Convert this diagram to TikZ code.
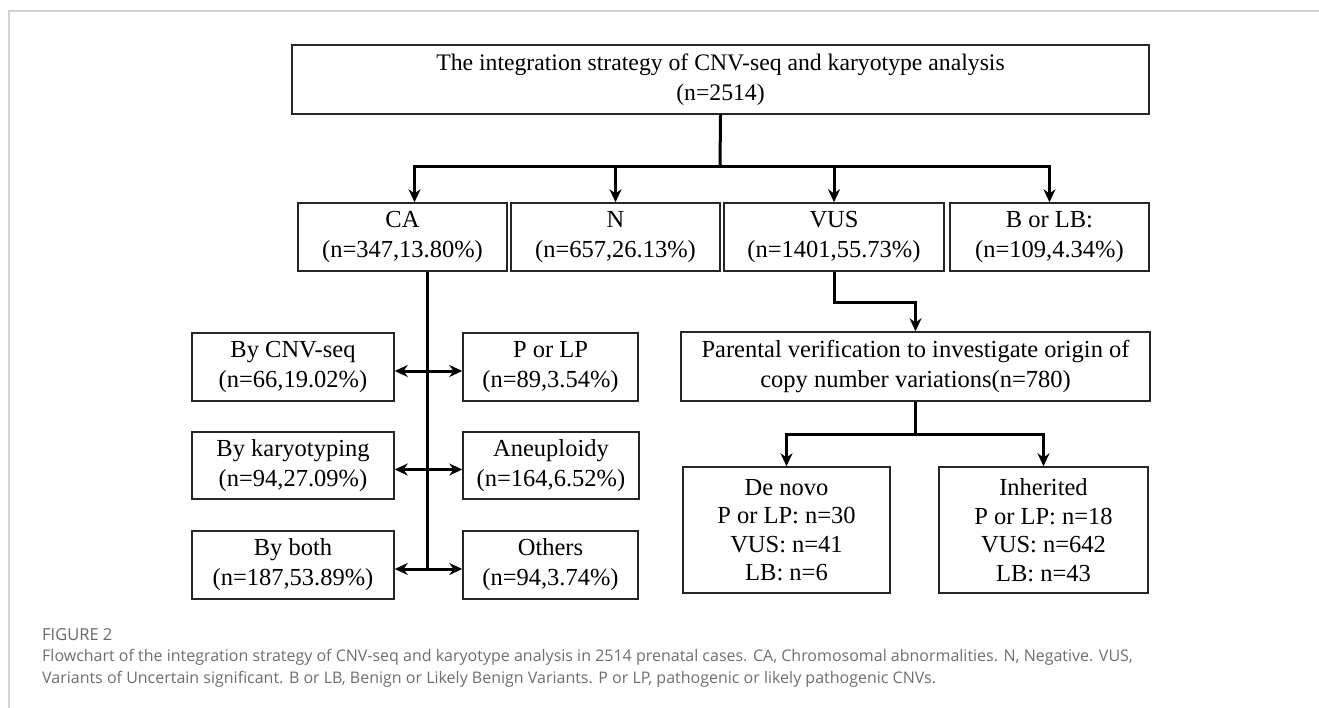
\documentclass[tikz,border=0pt]{standalone}
\usepackage{fontspec}
\setmainfont{Liberation Serif}
\newfontfamily\capfont{Open Sans}
\usetikzlibrary{arrows.meta}
\definecolor{framegray}{HTML}{D4D4D4}
\definecolor{capgray}{HTML}{6E6E6E}

\begin{document}
\begin{tikzpicture}[x=1pt, y=-1pt,
		box/.style={draw=black!85, line width=1.5pt, align=center, inner sep=0pt,
			font=\fontsize{24.5}{30}\selectfont},
		l_c/.style={line width=3pt, -{Stealth[length=13pt,width=12pt]}},
		l_d/.style={line width=3pt, {Stealth[length=13pt,width=12pt]}-{Stealth[length=13pt,width=12pt]}},
		captext/.style={anchor=base west, inner sep=0pt, text=capgray,
			font=\capfont\fontsize{16}{20}\selectfont}]
		\useasboundingbox (0,0) rectangle (1319,708);
		% page frame
		\draw[framegray, line width=1.5pt] (9,708) -- (9,11) -- (1319,11);
		
		% top and first level
		\node[box, minimum width=857pt, minimum height=69pt, font=\fontsize{23.7}{30}\selectfont] (top) at (720.5,79.5)
			{The integration strategy of CNV-seq and karyotype analysis\\(n=2514)};
		\node[box, minimum width=209pt, minimum height=68pt] (ca) at (402.5,237) {CA\\(n=347,13.80\%)};
		\node[box, minimum width=209pt, minimum height=68pt] (neg) at (615.5,237) {N\\(n=657,26.13\%)};
		\node[box, minimum width=220pt, minimum height=68pt] (vus) at (834,237) {VUS\\(n=1401,55.73\%)};
		\node[box, minimum width=199pt, minimum height=68pt] (blb) at (1049.5,237) {B or LB:\\(n=109,4.34\%)};
		
		% CA branch
		\node[box, minimum width=202pt, minimum height=68pt] (bycnv) at (293,367) {By CNV-seq\\(n=66,19.02\%)};
		\node[box, minimum width=202pt, minimum height=67pt] (bykar) at (293,465.5) {By karyotyping\\(n=94,27.09\%)};
		\node[box, minimum width=202pt, minimum height=68pt] (byboth) at (293,565) {By both\\(n=187,53.89\%)};
		\node[box, minimum width=175pt, minimum height=68pt] (plp) at (550.5,367) {P or LP\\(n=89,3.54\%)};
		\node[box, minimum width=176pt, minimum height=67pt] (aneu) at (551,465.5) {Aneuploidy\\(n=164,6.52\%)};
		\node[box, minimum width=175pt, minimum height=68pt] (others) at (550.5,565) {Others\\(n=94,3.74\%)};
		
		% VUS branch
		\node[box, minimum width=469pt, minimum height=69pt] (parent) at (915.5,366.5)
			{Parental verification to investigate origin of\\copy number variations(n=780)};
		\node[box, minimum width=207pt, minimum height=126pt, font=\fontsize{24.5}{28.5}\selectfont] (denovo) at (786.5,530)
			{De novo\\P or LP: n=30\\VUS: n=41\\LB: n=6};
		\node[box, minimum width=209pt, minimum height=126pt, font=\fontsize{24.5}{28.5}\selectfont] (inher) at (1043.5,530)
			{Inherited\\P or LP: n=18\\VUS: n=642\\LB: n=43};
		
		% connectors
		\coordinate (bus) at (720,167);
		\coordinate (caIn) at ([xshift=12pt]ca.north);
		\coordinate (trunk) at (427,0);
		\coordinate (lastrow) at ([yshift=-4pt]byboth.east);
		\draw[line width=3pt] (top.south) -- (bus);
		\draw[l_c] (bus) -| (caIn);
		\foreach \b in {neg, vus, blb} {
			\draw[l_c] (bus) -| (\b.north);
		};
		\draw[line width=3pt] (trunk |- ca.south) -- (trunk |- lastrow);
		\foreach \a/\b in {bycnv/plp, bykar/aneu, byboth/others} {
			\draw[l_d] ([yshift=-4pt]\a.east) -- ([yshift=-4pt]\b.west);
		};
		\draw[l_c] (vus.south) -- ++(0,31) -| (parent.north);
		\draw[l_c] (parent.south) -- ++(0,33) -| (denovo.north);
		\draw[l_c] (parent.south) -- ++(0,33) -| (inher.north);
		
		% caption
		\node[captext, text=capgray!95!black, font=\capfont\fontsize{16.5}{18}\selectfont] (fignum) at (42,640) {FIGURE 2};
		\node[captext] (capA) at (42,661) {Flowchart of the integration strategy of CNV-seq and karyotype analysis in 2514 prenatal cases. CA, Chromosomal abnormalities. N, Negative. VUS,};
		\node[captext] (capB) at (42,683) {Variants of Uncertain significant. B or LB, Benign or Likely Benign Variants. P or LP, pathogenic or likely pathogenic CNVs.};
\end{tikzpicture}
\end{document}
